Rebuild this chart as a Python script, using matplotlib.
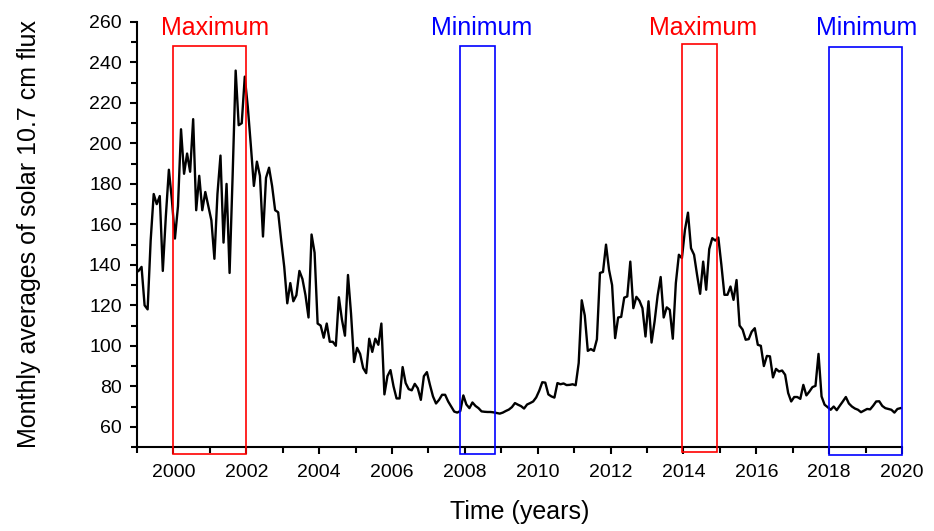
import numpy as np
import matplotlib
matplotlib.use("Agg")
import matplotlib.pyplot as plt
from matplotlib.patches import Rectangle
from matplotlib.ticker import MultipleLocator

plt.rcParams['font.family'] = ['Liberation Sans', 'DejaVu Sans']

# Monthly mean solar 10.7 cm flux, Jan 1999 .. Dec 2019
flux = [
    137, 139, 120, 118, 152, 175, 170, 174, 137, 164, 187, 172,      # 1999
    153, 169, 207, 185, 195, 186, 212, 167, 184, 167, 176, 169,      # 2000
    162, 143, 175, 194, 151, 180, 136, 184, 236, 209, 210, 233,      # 2001
    218, 199, 179, 191, 184, 154, 183, 188, 179, 167, 166, 152,      # 2002
    139, 121, 131, 122, 125, 137, 133, 125, 114, 155, 146, 111,      # 2003
    110, 104, 111, 102, 102, 100, 124, 113, 105, 135, 116, 92,       # 2004
    99, 96, 89, 86.5, 103.5, 97, 103.5, 100.5, 111, 76, 85, 88,      # 2005
    80, 74, 74, 89.5, 81.6, 78.6, 78, 81.2, 79, 73.3, 85, 87,        # 2006
    80.7, 75, 71.5, 73.3, 75.8, 75.8, 72.5, 70, 67.5, 67, 67.8, 75.5,  # 2007
    71, 69.2, 72, 70.3, 69.2, 67.6, 67.4, 67.3, 67.3, 67.1, 66.8, 66.5,  # 2008
    67, 67.8, 68.5, 69.7, 71.7, 70.9, 70.2, 69, 71, 71.7, 72.5, 74.5,  # 2009
    77.8, 82, 81.8, 76, 75, 74.4, 81.6, 81, 81.4, 80.6, 80.7, 81,    # 2010
    80.5, 91.5, 122.5, 115, 97.5, 98.4, 97.5, 103.2, 136, 136.5, 150, 137.5,  # 2011
    130, 103.8, 114, 114.3, 123.8, 124.4, 141.6, 118.6, 124.2, 122.3, 118.6, 104.6,  # 2012
    122, 101.6, 112, 124.8, 134, 114, 119, 117.8, 103.5, 131, 145, 143.3,  # 2013
    157.3, 165.8, 148.2, 145, 135, 125.7, 141.6, 127.7, 147.8, 153.2, 152, 153.5,  # 2014
    140, 125.2, 125.2, 129.3, 122.7, 132.5, 110, 108, 103, 103.3, 107, 108.7,  # 2015
    100.5, 100, 90, 95, 94.8, 84.4, 88.6, 87.3, 87.8, 85.7, 76.7, 72.5,  # 2016
    74.7, 74.7, 73.8, 80.7, 75.5, 77.4, 79.6, 80.2, 96, 75, 70.9, 69.7,  # 2017
    68.4, 70, 68.2, 70.4, 72.5, 74.7, 71.5, 70, 69, 68.4, 67.2, 68,  # 2018
    68.8, 68.6, 70.4, 72.5, 72.6, 70.3, 69.2, 68.8, 68.4, 67, 68.8, 69.2,  # 2019
]
t = 1999 + (np.arange(len(flux)) + 0.5) / 12

# marked periods: start, end, box top, box bottom, label, colour
period_start = [2000.0, 2007.86, 2013.95, 2018.0]
period_end = [2002.0, 2008.83, 2014.92, 2020.0]
period_top = [248.0, 248.3, 249.1, 247.8]
period_bottom = [46.5, 46.5, 47.6, 46.0]
period_label = ["Maximum", "Minimum", "Maximum", "Minimum"]
period_color = ["#ff0000", "#0000ff", "#ff0000", "#0000ff"]
label_x = [2001.13, 2008.46, 2014.53, 2019.03]

fig = plt.figure(figsize=(9.34, 5.31), dpi=100)
ax = fig.add_axes([137 / 934, 1 - 447 / 531, 765 / 934, 425 / 531])

ax.plot(t, flux, color="black", lw=1.7)

for x0, x1, top, bot, lab, c, lx in zip(period_start, period_end, period_top,
                                         period_bottom, period_label, period_color, label_x):
    ax.add_patch(Rectangle((x0, bot), x1 - x0, top - bot, fill=False,
                           edgecolor=c, lw=1.2, clip_on=False, zorder=3))
    ax.text(lx, 253.6, lab, color=c, fontsize=18, ha="center", va="baseline",
            clip_on=False)

ax.set_xlim(1999, 2020)
ax.set_ylim(50, 260)
ax.xaxis.set_major_locator(MultipleLocator(2))
ax.xaxis.set_minor_locator(MultipleLocator(1))
ax.set_yticks(np.arange(60, 261, 20))
ax.yaxis.set_minor_locator(MultipleLocator(10))

for s in ["top", "right"]:
    ax.spines[s].set_visible(False)
for s in ["left", "bottom"]:
    ax.spines[s].set_linewidth(1.5)

ax.tick_params(which="major", direction="out", length=5, width=1.5,
               labelsize=14)
ax.tick_params(axis="x", which="major", pad=7)
ax.tick_params(axis="y", which="major", pad=6)
ax.tick_params(which="minor", direction="out", length=4, width=1.5)

ax.set_xlabel("Time (years)", fontsize=18)
ax.set_ylabel("Monthly averages of solar 10.7 cm flux", fontsize=18)
ax.xaxis.set_label_coords(0.5, -0.1247)
ax.yaxis.set_label_coords(-0.1255, 0.5)

fig.savefig("out.png", dpi=100)
